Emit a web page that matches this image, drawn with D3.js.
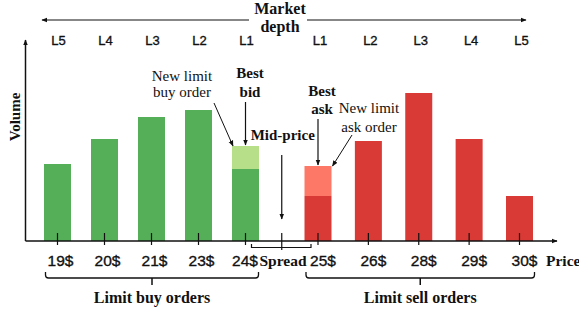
<!DOCTYPE html>
<html>
<head>
<meta charset="utf-8">
<script src="https://cdn.jsdelivr.net/npm/d3@7"></script>
<style>
  body { margin: 0; background: #fff; }
  svg { display: block; }
  .serif { font-family: "Liberation Serif", "Times New Roman", serif; fill: #111; }
  .sans { font-family: "Liberation Sans", Arial, sans-serif; fill: #111; stroke: #111; stroke-width: 0.35px; }
</style>
</head>
<body>
<div id="chart"></div>
<script>
// order book data
var levelsBuy = ["L5", "L4", "L3", "L2", "L1"];
var levelsSell = ["L1", "L2", "L3", "L4", "L5"];
var buyPrices = ["19$", "20$", "21$", "23$", "24$"];
var sellPrices = ["25$", "26$", "28$", "29$", "30$"];
var buyVolume = [77, 102, 124, 131, 72];
var buyNew = [0, 0, 0, 0, 23];
var sellVolume = [45, 100, 148, 102, 45];
var sellNew = [30, 0, 0, 0, 0];

var width = 579, height = 313;
var baseY = 241, axisX = 25.5;
var barW = 27;

var svg = d3.select("#chart").append("svg")
    .attr("width", width)
    .attr("height", height);

// arrow head marker
svg.append("defs").append("marker")
    .attr("id", "head")
    .attr("viewBox", "0 0 10 10")
    .attr("refX", 9).attr("refY", 5)
    .attr("markerWidth", 6).attr("markerHeight", 6)
    .attr("markerUnits", "userSpaceOnUse")
    .attr("orient", "auto")
  .append("path")
    .attr("d", "M0,1 L10,5 L0,9 Z")
    .attr("fill", "#111");

var xBuy = d3.scalePoint().domain(buyPrices).range([57.5, 245.5]);
var xSell = d3.scalePoint().domain(sellPrices).range([318, 519.5]);
var y = d3.scaleLinear().domain([0, 160]).range([baseY, 81]);
var midX = (xBuy("24$") + xSell("25$")) / 2;

var colors = {buy: "#55ae58", buyNew: "#b7df8a", sell: "#d93a35", sellNew: "#fe7867"};

function drawBars(prices, vol, extra, xs, c, cNew) {
    var g = svg.append("g");
    g.selectAll(".base").data(prices).enter().append("rect")
        .attr("x", function(d) { return xs(d) - barW / 2; })
        .attr("width", barW)
        .attr("y", function(d, i) { return y(vol[i]); })
        .attr("height", function(d, i) { return baseY - y(vol[i]); })
        .attr("fill", c);
    g.selectAll(".extra").data(prices.filter(function(d, i) { return extra[i] > 0; }))
        .enter().append("rect")
        .attr("x", function(d) { return xs(d) - barW / 2; })
        .attr("width", barW)
        .attr("y", function(d) { var i = prices.indexOf(d); return y(vol[i] + extra[i]); })
        .attr("height", function(d) { var i = prices.indexOf(d); return y(vol[i]) - y(vol[i] + extra[i]); })
        .attr("fill", cNew);
}
drawBars(buyPrices, buyVolume, buyNew, xBuy, colors.buy, colors.buyNew);
drawBars(sellPrices, sellVolume, sellNew, xSell, colors.sell, colors.sellNew);

function line(x1, y1, x2, y2, arrow, w) {
    var l = svg.append("line")
        .attr("x1", x1).attr("y1", y1).attr("x2", x2).attr("y2", y2)
        .attr("stroke", "#111").attr("stroke-width", w || 1.2);
    if (arrow) l.attr("marker-end", "url(#head)");
    return l;
}

// axes
line(axisX, baseY, 557, baseY, true, 1.5);
line(axisX, baseY, axisX, 40, true, 1.5);

// ticks
buyPrices.forEach(function(p) { line(xBuy(p), 233, xBuy(p), 245, false, 1.2); });
sellPrices.forEach(function(p) { line(xSell(p), 233, xSell(p), 245, false, 1.2); });
line(midX, 233, midX, 250, false, 1.2);

// level labels
svg.selectAll(".lvlB").data(levelsBuy).enter().append("text")
    .attr("class", "sans")
    .attr("x", function(d, i) { return xBuy(buyPrices[i]) + 1; })
    .attr("y", 45).attr("text-anchor", "middle")
    .style("font-size", "13px").text(function(d) { return d; });
svg.selectAll(".lvlS").data(levelsSell).enter().append("text")
    .attr("class", "sans")
    .attr("x", function(d, i) { return xSell(sellPrices[i]) + 2; })
    .attr("y", 45).attr("text-anchor", "middle")
    .style("font-size", "13px").text(function(d) { return d; });

// price labels
svg.selectAll(".pB").data(buyPrices).enter().append("text")
    .attr("class", "sans")
    .attr("x", function(d, i) { return xBuy(d) + (i === buyPrices.length - 1 ? -0.5 : 3); })
    .attr("y", 266).attr("text-anchor", "middle")
    .style("font-size", "15.5px").text(function(d) { return d; });
svg.selectAll(".pS").data(sellPrices).enter().append("text")
    .attr("class", "sans")
    .attr("x", function(d) { return xSell(d) + 5; })
    .attr("y", 266).attr("text-anchor", "middle")
    .style("font-size", "15.5px").text(function(d) { return d; });

function label(txt, x, yy, size, bold, anchor) {
    return svg.append("text").attr("class", "serif")
        .attr("x", x).attr("y", yy)
        .attr("text-anchor", anchor || "middle")
        .style("font-size", size + "px")
        .style("font-weight", bold ? "bold" : "normal")
        .text(txt);
}

label("Price", 546, 266, 15.5, true, "start");
label("Spread", 259.5, 266, 15.5, true, "start");
svg.append("text").attr("class", "serif")
    .attr("transform", "translate(20," + 117 + ") rotate(-90)")
    .attr("text-anchor", "middle")
    .style("font-size", "15px").style("font-weight", "bold")
    .text("Volume");

// market depth header
label("Market", 280, 14, 16, true);
label("depth", 280, 32, 16, true);
line(249, 20, 42, 20, true, 1.2);
line(307, 20, 526, 20, true, 1.2);

// spread bracket
svg.append("path")
    .attr("d", "M" + (xBuy("24$") + 6) + ",244 V247.5 H" + (xSell("25$") - 7) + " V244")
    .attr("fill", "none").attr("stroke", "#111").attr("stroke-width", 1.2);

// braces under price labels
function brace(x1, x2, txt) {
    var cx = (x1 + x2) / 2;
    svg.append("path")
        .attr("d", "M" + x1 + ",272 V275 Q" + x1 + ",278 " + (x1 + 3) + ",278 H" + (x2 - 3) +
              " Q" + x2 + ",278 " + x2 + ",275 V272")
        .attr("fill", "none").attr("stroke", "#111").attr("stroke-width", 1.3);
    line(cx, 278, cx, 285, false, 1.5);
    label(txt, cx, 303, 16, true);
}
brace(xBuy("19$") - 12, xBuy("24$") + 13, "Limit buy orders");
brace(xSell("25$") - 12, xSell("30$") + 15, "Limit sell orders");

// annotations
var bx = xBuy("24$"), sx = xSell("25$");
var bidTop = y(buyVolume[4] + buyNew[4]);
var askTop = y(sellVolume[0] + sellNew[0]);

label("New limit", 182, 81, 15, false);
label("buy order", 182, 97, 15, false);
line(214, 103, bx - barW / 2 + 1, bidTop, true, 1);

label("Best", 250, 78, 15, true);
label("bid", 250, 97, 15, true);
line(bx, 102, bx, bidTop - 1, true, 1.2);

label("Mid-price", midX + 1, 140, 15, true);
line(midX, 155, midX, 219, true, 1.2);

label("Best", 322, 96, 15, true);
label("ask", 322, 114, 15, true);
line(sx, 119, sx, askTop - 1, true, 1.2);

label("New limit", 369, 113, 15, false);
label("ask order", 369, 132, 15, false);
line(352, 135, sx + barW / 2 + 1, askTop, true, 1);
</script>
</body>
</html>
